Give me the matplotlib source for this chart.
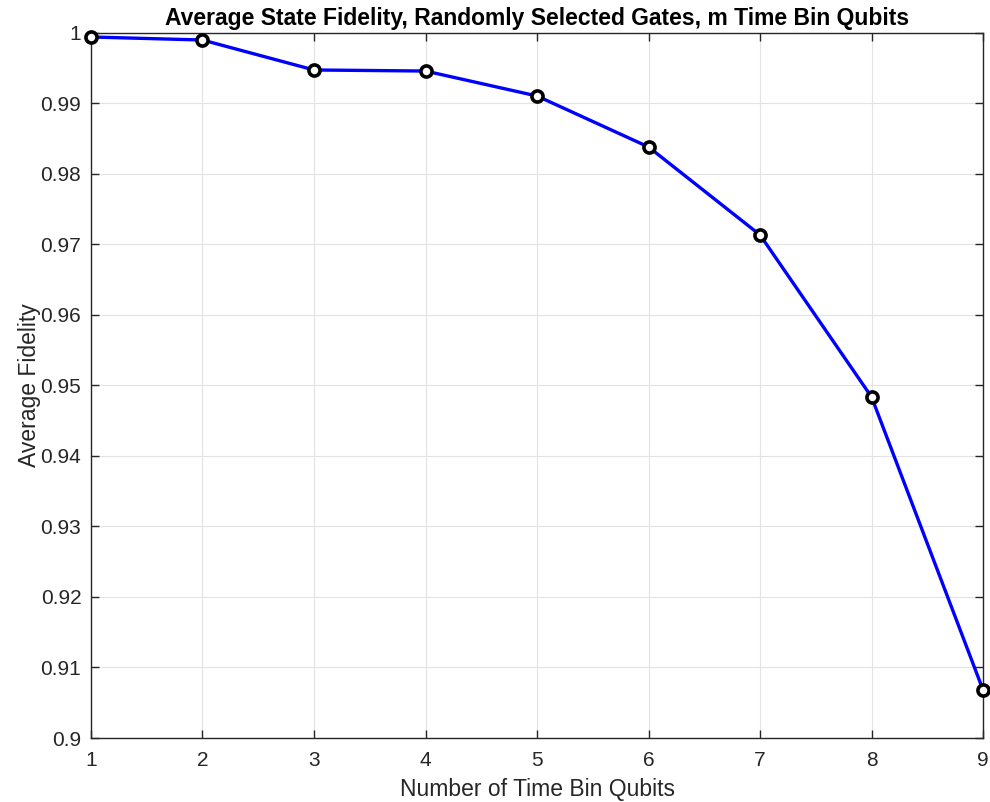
import matplotlib.pyplot as plt
from matplotlib.ticker import FuncFormatter

qubits = [1, 2, 3, 4, 5, 6, 7, 8, 9]
fidelity = [0.99943, 0.99900, 0.99475, 0.99460, 0.99106, 0.98383, 0.97135, 0.94837, 0.90680]
yticks = [0.90, 0.91, 0.92, 0.93, 0.94, 0.95, 0.96, 0.97, 0.98, 0.99, 1.0]

plt.rcParams['font.family'] = ['Liberation Sans', 'DejaVu Sans']

fig = plt.figure(figsize=(9.9, 8.02), dpi=100)
ax = fig.add_axes([0.0919, 0.0798, 0.9011, 0.8791])

ax.plot(qubits, fidelity, color='#0000ff', linewidth=2.4, marker='o',
        markersize=8, markerfacecolor='white', markeredgecolor='black',
        markeredgewidth=2.6, zorder=3, clip_on=False)

ax.set_xlim(1, 9)
ax.set_ylim(0.9, 1.0)
ax.set_xticks(qubits)
ax.set_yticks(yticks)
ax.yaxis.set_major_formatter(FuncFormatter(lambda v, p: '%g' % round(v, 3)))
ax.grid(True, color='#e3e3e3', linewidth=0.8)
ax.set_axisbelow(True)
ax.tick_params(direction='in', length=6, width=1, top=True, right=True,
               labelsize=15, colors='#262626')
ax.tick_params(axis='x', pad=9)
ax.tick_params(axis='y', pad=7)
for s in ax.spines.values():
    s.set_color('#262626')
    s.set_linewidth(1)

ax.set_xlabel('Number of Time Bin Qubits', fontsize=16.5, color='#262626', labelpad=6)
ax.set_ylabel('Average Fidelity', fontsize=16.5, color='#262626', labelpad=0)
ax.set_title('Average State Fidelity, Randomly Selected Gates, m Time Bin Qubits',
             fontsize=16.5, fontweight='bold', pad=6)

fig.savefig('out.png', dpi=100)
